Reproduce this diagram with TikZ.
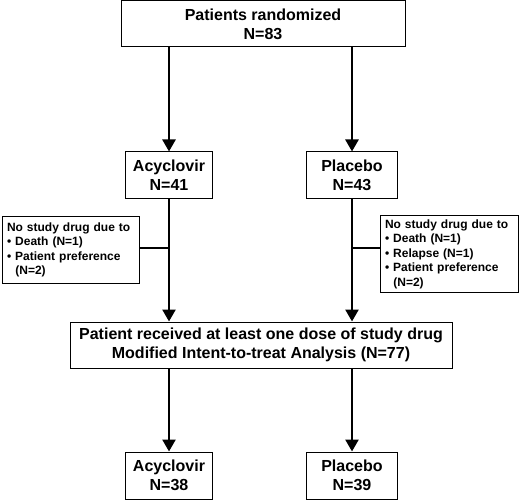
\documentclass[tikz,border=0pt]{standalone}
\usepackage{fontspec}
\setmainfont{Liberation Sans}
\usetikzlibrary{arrows.meta,calc}
\begin{document}
\begin{tikzpicture}[x=1pt,y=-1pt,
  box/.style={draw,line width=1pt,fill=white,inner sep=0pt,align=center,
    font=\fontsize{16}{19}\selectfont\bfseries},
  side/.style={draw,line width=1pt,fill=white,inner sep=0pt,align=left,
    font=\fontsize{12}{14.5}\selectfont\bfseries},
  arr/.style={line width=2.6pt,-{Triangle[width=13pt,length=12pt]}},
  link/.style={line width=1.4pt}]
\useasboundingbox (0,0) rectangle (520,500);
\node[box,minimum width=284pt,minimum height=46pt] (top) at (263,24) {Patients randomized\\N=83};
\node[box,minimum width=87pt,minimum height=47pt] (acy) at (169,175.5) {Acyclovir\\N=41};
\node[box,minimum width=91pt,minimum height=47pt] (pla) at (352,175.5) {Placebo\\N=43};
\node[side,minimum width=137pt,minimum height=66pt,text width=127pt] (ls) at (70.5,250)
  {No study drug due to\\• Death (N=1)\\• Patient preference\\\hspace*{0.7em}(N=2)};
\node[side,minimum width=138pt,minimum height=76pt,text width=128pt] (rs) at (449,254)
  {No study drug due to\\• Death (N=1)\\• Relapse (N=1)\\• Patient preference\\\hspace*{0.7em}(N=2)};
\node[box,minimum width=382pt,minimum height=46pt] (mid) at (261,345)
  {Patient received at least one dose of study drug\\Modified Intent-to-treat Analysis (N=77)};
\node[box,minimum width=87pt,minimum height=47pt] (acy2) at (169,475.5) {Acyclovir\\N=38};
\node[box,minimum width=91pt,minimum height=47pt] (pla2) at (352,475.5) {Placebo\\N=39};
\coordinate (lj) at (169,248);
\coordinate (rj) at (352,248);
\draw[arr] (top.south -| acy) -- (acy.north);
\draw[arr] (top.south -| pla) -- (pla.north);
\draw[arr] (acy.south) -- (mid.north -| acy);
\draw[arr] (pla.south) -- (mid.north -| pla);
\draw[link] (lj) -- (lj -| ls.east);
\draw[link] (rj) -- (rj -| rs.west);
\draw[arr] (mid.south -| acy2) -- (acy2.north);
\draw[arr] (mid.south -| pla2) -- (pla2.north);
\end{tikzpicture}
\end{document}
